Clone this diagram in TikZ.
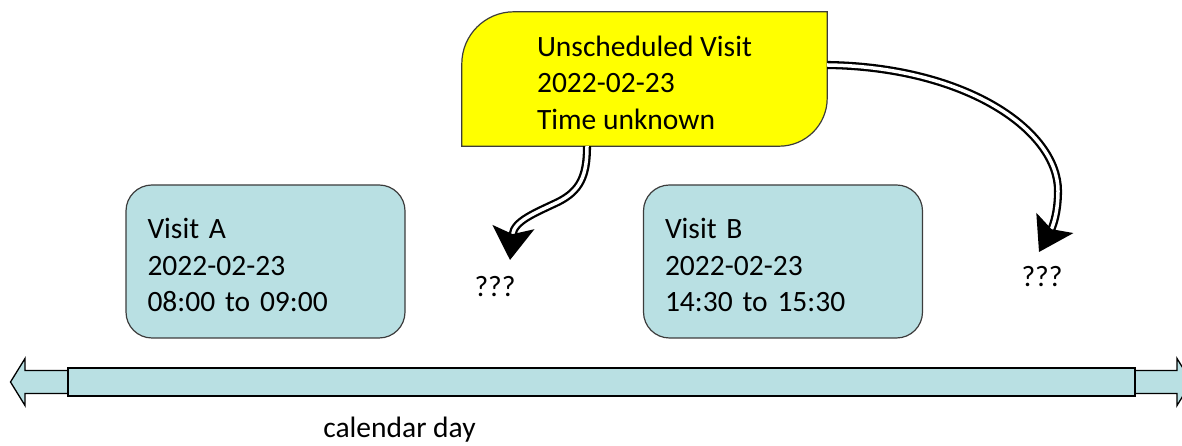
\documentclass[tikz,border=0pt]{standalone}
\usepackage{fontspec}
\setmainfont{Carlito}
\usetikzlibrary{arrows.meta,calc,backgrounds}
\definecolor{visitblue}{RGB}{185,224,227}
\definecolor{noteyellow}{RGB}{255,255,0}
\definecolor{edgegray}{RGB}{60,60,60}
\newcommand{\firstline}{\rule{0pt}{28pt}}
\begin{document}
\begin{tikzpicture}[x=1pt,y=1pt,
  every node/.style={font=\fontsize{29.5}{36.5}\selectfont},
  visitbox/.style={draw=edgegray, line width=1.2pt, fill=visitblue,
    rounded corners=26pt, minimum width=279pt, minimum height=153pt,
    align=left, text width=236pt, inner sep=0pt},
  notebox/.style={minimum width=365pt, minimum height=134pt,
    align=left, inner sep=0pt},
  dblarrow/.style={draw=black, line width=2.3pt, double=white,
    double distance=3.5pt,
    -{Stealth[length=33pt,width=42pt,inset=7pt]}},
  qmark/.style={anchor=base, inner sep=0pt},
  timebar/.style={draw=black, line width=1.3pt, fill=visitblue},
]
\clip (0,0) rectangle (1182,446);
\path[use as bounding box] (0,0) rectangle (1182,446);

% calendar day: double-headed arrow with the day bar on top
\draw[timebar] (10.5,64) -- (25,87.5) -- (25,75.5) -- (1177,75.5) -- (1177,87.5)
  -- (1191.5,64) -- (1177,40.5) -- (1177,52.5) -- (25,52.5) -- (25,40.5) -- cycle;
\node[timebar, minimum width=1067pt, minimum height=28pt, inner sep=0pt]
  (cal) at (601.5,64) {};
\node[anchor=base] (cd) at (399.5,8) {calendar day};

% scheduled visits
\node[visitbox] (a) at (265.5,184.5) {\firstline Visit A\\2022-02-23\\08:00 to 09:00};
\node[visitbox] (b) at (783,184.5) {\firstline Visit B\\2022-02-23\\14:30 to 15:30};

% unscheduled visit note
\node[notebox] (u) at (644.5,367) {\firstline Unscheduled Visit\\2022-02-23\\Time unknown};
\begin{scope}[on background layer]
\draw[draw=edgegray, line width=1.2pt, fill=noteyellow]
  (u.south west) -- ($(u.north west)+(0,-52)$)
  arc[start angle=180, end angle=90, radius=52pt]
  -- (u.north east) -- ($(u.south east)+(0,48)$)
  arc[start angle=0, end angle=-90, radius=48pt] -- cycle;
\end{scope}

% possible positions
\node[qmark] (q1) at (495,149) {???};
\node[qmark] (q2) at (1042,159) {???};
\coordinate (t1) at ($(q1.base)+(15,37)$);
\coordinate (t2) at ($(q2.base)+(-3,35)$);

\draw[dblarrow] ($(u.south)+(-57.5,0)$) .. controls +(0,-30) and +(22,11) .. (558,244)
  .. controls +(-23,-11) and +(4,39) .. (t1);
\draw[dblarrow] ($(u.east)+(0,14)$) .. controls +(140,-2) and +(0,60) .. (1058,255)
  .. controls +(0,-25) and +(12,22) .. (t2);
\end{tikzpicture}
\end{document}
